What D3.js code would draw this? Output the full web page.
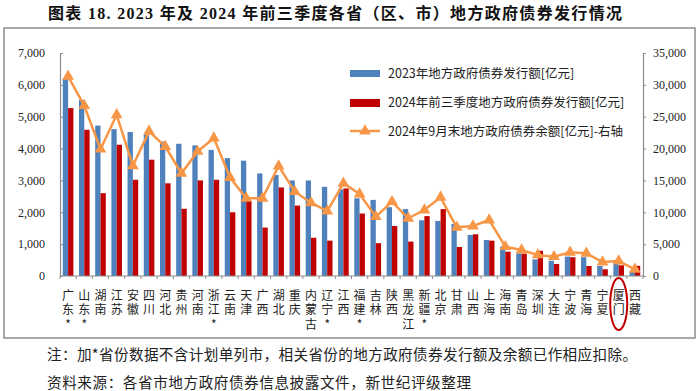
<!DOCTYPE html>
<html>
<head>
<meta charset="utf-8">
<script src="https://cdn.jsdelivr.net/npm/d3@7"></script>
<style>
  body { margin: 0; background: #fff; }
</style>
</head>
<body>
<div id="chart"></div>
<script>
// 各省（区、市）地方政府债券发行情况

const provinces = [
  "广东*", "山东*", "湖南", "江苏", "安徽", "四川", "河北", "贵州", "河南", "浙江*",
  "云南", "天津", "广西", "湖北", "重庆", "内蒙古", "辽宁*", "江西", "福建*", "吉林",
  "陕西", "黑龙江", "新疆*", "北京", "甘肃", "山西", "上海", "海南", "青岛", "深圳",
  "大连", "宁波", "青海", "宁夏", "厦门", "西藏"
];
// 2023年地方政府债券发行额[亿元]
const issue2023 = [
  6180, 5530, 4720, 4610, 4520, 4450, 4220, 4150, 4100, 3960,
  3700, 3620, 3220, 3170, 3000, 3000, 2800, 2720, 2440, 2390,
  2160, 2100, 1750, 1730, 1630, 1290, 1130, 920, 710, 520,
  480, 610, 590, 314, 450, 150
];
// 2024年前三季度地方政府债券发行额[亿元]
const issue2024 = [
  5270, 4590, 2600, 4120, 3020, 3650, 2910, 2110, 3000, 3020,
  2000, 2350, 1520, 2780, 2210, 1200, 1110, 2750, 1960, 1030,
  1570, 1080, 1880, 2100, 910, 1310, 1110, 763, 700, 790,
  377, 590, 314, 210, 335, 320
];
// 2024年9月末地方政府债券余额[亿元]-右轴
const balance2024 = [
  31340, 26730, 19900, 25300, 17300, 22700, 20300, 16100, 19550, 21650,
  15460, 12200, 12200, 17260, 13230, 11500, 10200, 14550, 12870, 9310,
  11660, 9050, 10360, 12350, 7640, 7850, 8790, 4600, 4080, 3300,
  3030, 3720, 3560, 2200, 2350, 1050
];
const leftTicks = [0, 1000, 2000, 3000, 4000, 5000, 6000, 7000];
const rightTicks = [0, 5000, 10000, 15000, 20000, 25000, 30000, 35000];
const seriesNames = [
  "2023年地方政府债券发行额[亿元]",
  "2024年前三季度地方政府债券发行额[亿元]",
  "2024年9月末地方政府债券余额[亿元]-右轴"
];

const W = 700, H = 391;
const PLOT = {LEFT: 60, RIGHT: 643, TOP: 53, BOTTOM: 276};
const BLUE = "#4f81bd", RED = "#c00000", ORANGE = "#f79646";
const SERIF = "'Liberation Serif', 'Noto Sans CJK SC', serif";
const CJK = "'Noto Sans CJK SC', sans-serif";

const svg = d3.select("#chart").append("svg")
  .attr("width", W).attr("height", H);

// title
svg.append("text")
  .attr("x", 48).attr("y", 19)
  .attr("font-family", SERIF)
  .attr("font-size", 16).attr("font-weight", "bold")
  .attr("fill", "#111")
  .attr("textLength", 574).attr("lengthAdjust", "spacing")
  .text("图表 18. 2023 年及 2024 年前三季度各省（区、市）地方政府债券发行情况");

// frame
svg.append("rect")
  .attr("x", 4).attr("y", 28).attr("width", 691).attr("height", 310)
  .attr("fill", "none").attr("stroke", "#8c8c8c").attr("stroke-width", 1.5);

// scales
const x = d3.scaleBand().domain(provinces).range([PLOT.LEFT, PLOT.RIGHT]);
const yL = d3.scaleLinear().domain([0, 7000]).range([PLOT.BOTTOM, PLOT.TOP]);
const yR = d3.scaleLinear().domain([0, 35000]).range([PLOT.BOTTOM, PLOT.TOP]);
const barW = 5.3;

// left axis
const leftAxis = svg.append("g")
  .attr("transform", "translate(" + PLOT.LEFT + ",0)")
  .call(d3.axisLeft(yL).tickValues(leftTicks).tickFormat(d3.format(",")).tickSize(-3).tickPadding(15));
// right axis
const rightAxis = svg.append("g")
  .attr("transform", "translate(" + PLOT.RIGHT + ",0)")
  .call(d3.axisRight(yR).tickValues(rightTicks).tickFormat(d3.format(",")).tickSize(3).tickPadding(7));
[leftAxis, rightAxis].forEach(function (ax) {
  ax.select(".domain").attr("stroke", "#8c8c8c").attr("stroke-width", 1.2);
  ax.selectAll(".tick line").attr("stroke", "#8c8c8c");
  ax.selectAll(".tick text")
    .attr("font-family", SERIF)
    .attr("font-size", 12).attr("fill", "#222");
});

// bars
svg.append("g").selectAll("rect")
  .data(provinces)
  .enter().append("rect")
  .attr("x", (d) => x(d) + x.bandwidth() / 2 - barW)
  .attr("y", (d, i) => yL(issue2023[i]))
  .attr("width", barW)
  .attr("height", (d, i) => PLOT.BOTTOM - yL(issue2023[i]))
  .attr("fill", BLUE);

svg.append("g").selectAll("rect")
  .data(provinces)
  .enter().append("rect")
  .attr("x", (d) => x(d) + x.bandwidth() / 2)
  .attr("y", (d, i) => yL(issue2024[i]))
  .attr("width", barW)
  .attr("height", (d, i) => PLOT.BOTTOM - yL(issue2024[i]))
  .attr("fill", RED);

// x axis
const xAxis = svg.append("g")
  .attr("transform", "translate(0," + PLOT.BOTTOM + ")");
xAxis.append("line")
  .attr("x1", PLOT.LEFT).attr("x2", PLOT.RIGHT)
  .attr("stroke", "#8c8c8c").attr("stroke-width", 1.2);
xAxis.selectAll("line.tk")
  .data(provinces.concat(["end"]))
  .enter().append("line")
  .attr("class", "tk")
  .attr("x1", (d, i) => PLOT.LEFT + i * x.step())
  .attr("x2", (d, i) => PLOT.LEFT + i * x.step())
  .attr("y1", 0).attr("y2", 3)
  .attr("stroke", "#8c8c8c");

// vertical category labels (one text each, written top to bottom)
svg.append("g").selectAll("text")
  .data(provinces)
  .enter().append("text")
  .attr("x", (d) => x(d) + x.bandwidth() / 2)
  .attr("y", 289)
  .style("writing-mode", "vertical-rl")
  .style("text-orientation", "upright")
  .style("letter-spacing", "2.5px")
  .attr("font-family", CJK)
  .attr("font-size", 12).attr("fill", "#222")
  .text((d) => d);

// balance line, right axis
const line = d3.line()
  .x((d, i) => x(provinces[i]) + x.bandwidth() / 2)
  .y((d) => yR(d));
svg.append("path")
  .datum(balance2024)
  .attr("d", line)
  .attr("fill", "none")
  .attr("stroke", ORANGE)
  .attr("stroke-width", 2.5);
const tri = d3.symbol().type(d3.symbolTriangle).size(60);
svg.append("g").selectAll("path")
  .data(balance2024)
  .enter().append("path")
  .attr("d", tri)
  .attr("transform", (d, i) => "translate(" + (x(provinces[i]) + x.bandwidth() / 2) + "," + yR(d) + ")")
  .attr("fill", ORANGE);

// legend
const legend = svg.append("g").attr("transform", "translate(350,0)");
legend.append("rect").attr("x", 0).attr("y", 70).attr("width", 30).attr("height", 7).attr("fill", BLUE);
legend.append("rect").attr("x", 0).attr("y", 99).attr("width", 30).attr("height", 8).attr("fill", RED);
legend.append("line").attr("x1", 0).attr("x2", 30).attr("y1", 131).attr("y2", 131)
  .attr("stroke", ORANGE).attr("stroke-width", 2.5);
legend.append("path").attr("d", tri).attr("transform", "translate(15,131)").attr("fill", ORANGE);
legend.selectAll("text.lg")
  .data(seriesNames)
  .enter().append("text")
  .attr("class", "lg")
  .attr("x", 38)
  .attr("y", (d, i) => 78 + i * 29)
  .attr("font-family", CJK)
  .attr("font-size", 12.5).attr("fill", "#222")
  .text((d) => d);

// 厦门 circled
svg.append("ellipse")
  .attr("cx", x("厦门") + x.bandwidth() / 2)
  .attr("cy", 304)
  .attr("rx", 8.5).attr("ry", 26)
  .attr("fill", "none").attr("stroke", RED).attr("stroke-width", 2);

// notes
const notes = [
  "注：加*省份数据不含计划单列市，相关省份的地方政府债券发行额及余额已作相应扣除。",
  "资料来源：各省市地方政府债券信息披露文件，新世纪评级整理"
];
const noteWidths = [590, 424];
svg.append("g").selectAll("text")
  .data(notes)
  .enter().append("text")
  .attr("x", 47)
  .attr("y", (d, i) => 360 + i * 28)
  .attr("font-family", CJK)
  .attr("font-size", 14.6).attr("fill", "#222")
  .attr("textLength", (d, i) => noteWidths[i]).attr("lengthAdjust", "spacing")
  .text((d) => d);
</script>
</body>
</html>
